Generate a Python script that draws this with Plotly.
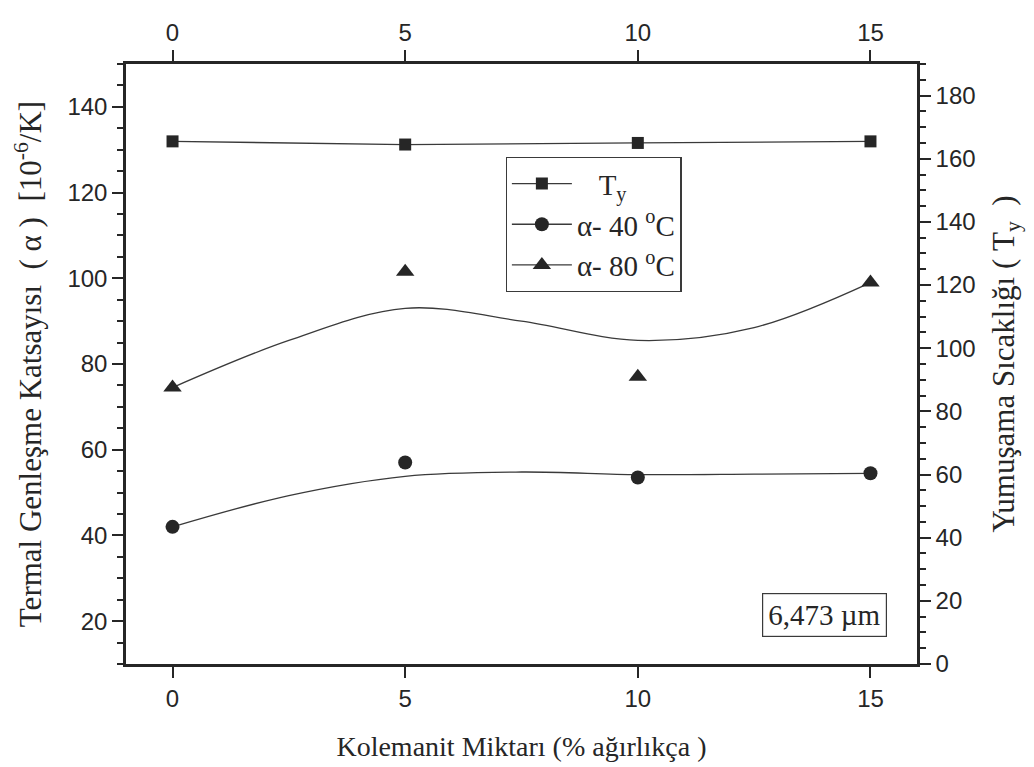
import plotly.graph_objects as go

# ---- data ----
kolemanit = [0, 5, 10, 15]                      # % ağırlıkça
ty_values = [165.5, 164.5, 165, 165.5]          # Yumuşama sıcaklığı (right axis)
alpha40 = [42, 57, 53.5, 54.5]                  # α at 40 °C
alpha80 = [74.5, 101.5, 77, 99]                 # α at 80 °C
fit_x = [0, 2.5, 5, 7.5, 10, 12.5, 15]          # smooth fitted curves
alpha40_fit = [42, 49.3, 53.8, 54.8, 54.2, 54.3, 54.5]
alpha80_fit = [74.5, 85.5, 93, 90, 85.5, 88.5, 99]

x_ticks = [0, 5, 10, 15]
left_ticks = [20, 40, 60, 80, 100, 120, 140]
right_ticks = [0, 20, 40, 60, 80, 100, 120, 140, 160, 180]

INK = "#262626"
LINE = "#3a3a3a"
SERIF = "Liberation Serif, Times New Roman, serif"
SANS = "Liberation Sans, Arial, sans-serif"

fig = go.Figure()

# Ty (right axis, top x axis)
fig.add_trace(go.Scatter(
    x=kolemanit, y=ty_values, xaxis="x2", yaxis="y2",
    mode="lines+markers", name="\u00a0\u00a0\u00a0T<sub>y</sub>",
    line=dict(color=LINE, width=1.3),
    marker=dict(symbol="square", size=12, color=INK),
))

# α - 40 °C
fig.add_trace(go.Scatter(
    x=fit_x, y=alpha40_fit, mode="lines", line=dict(color=LINE, width=1.3, shape="spline"),
    showlegend=False, hoverinfo="skip"))
fig.add_trace(go.Scatter(
    x=kolemanit, y=alpha40, mode="markers", showlegend=False,
    marker=dict(symbol="circle", size=14, color=INK)))
fig.add_trace(go.Scatter(
    x=[None], y=[None], mode="lines+markers", name="α- 40 <sup>o</sup>C",
    line=dict(color=LINE, width=1.3), marker=dict(symbol="circle", size=14, color=INK)))

# α - 80 °C
fig.add_trace(go.Scatter(
    x=fit_x, y=alpha80_fit, mode="lines", line=dict(color=LINE, width=1.3, shape="spline"),
    showlegend=False, hoverinfo="skip"))
fig.add_trace(go.Scatter(
    x=kolemanit, y=alpha80, mode="markers", showlegend=False,
    marker=dict(symbol="triangle-up", size=16, color=INK)))
fig.add_trace(go.Scatter(
    x=[None], y=[None], mode="lines+markers", name="α- 80 <sup>o</sup>C",
    line=dict(color=LINE, width=1.3), marker=dict(symbol="triangle-up", size=16, color=INK)))

axis_common = dict(
    showline=True, linewidth=2.5, linecolor=INK, showgrid=False, zeroline=False,
    ticks="outside", ticklen=11, tickwidth=2, tickcolor=INK,
    tickfont=dict(family=SANS, size=24, color=INK),
)

fig.update_layout(
    width=1034, height=767,
    margin=dict(l=118, r=125, t=56, b=111),
    paper_bgcolor="white", plot_bgcolor="white",
    xaxis=dict(**axis_common, range=[-1, 16], tickvals=x_ticks,
               title=dict(text="Kolemanit Miktarı (% ağırlıkça )",
                          font=dict(family=SERIF, size=28, color=INK), standoff=26)),
    xaxis2=dict(**axis_common, range=[-1, 16], tickvals=x_ticks, overlaying="x",
                side="top", anchor="y2"),
    yaxis=dict(**axis_common, range=[10, 150], tickvals=left_ticks,
               minor=dict(dtick=5, tick0=0, ticks="outside", ticklen=6, tickwidth=2, tickcolor=INK),
               title=dict(text="Termal Genleşme Katsayısı\u00a0\u00a0(\u00a0α\u00a0)\u00a0\u00a0[10<sup>-6</sup>/K]",
                          font=dict(family=SERIF, size=31, color=INK), standoff=17)),
    yaxis2=dict(**axis_common, range=[0, 190], tickvals=right_ticks, overlaying="y",
                side="right", anchor="x2",
                minor=dict(dtick=5, tick0=0, ticks="outside", ticklen=6, tickwidth=2, tickcolor=INK),
                title=dict(text="Yumuşama Sıcaklığı (\u00a0T<sub>y</sub>\u00a0\u00a0)",
                           font=dict(family=SERIF, size=31, color=INK), standoff=18)),
    legend=dict(x=0.48, y=0.845, xanchor="left", yanchor="top",
                bgcolor="white", bordercolor=LINE, borderwidth=1.2,
                font=dict(family=SERIF, size=29, color=INK),
                itemwidth=60, traceorder="normal"),
    annotations=[dict(
        text="6,473 µm", xref="paper", yref="paper", x=0.962, y=0.045,
        xanchor="right", yanchor="bottom", showarrow=False,
        font=dict(family=SERIF, size=29, color=INK),
        bordercolor=LINE, borderwidth=1.2, borderpad=5, bgcolor="white")],
)

fig.write_html("out.html")
